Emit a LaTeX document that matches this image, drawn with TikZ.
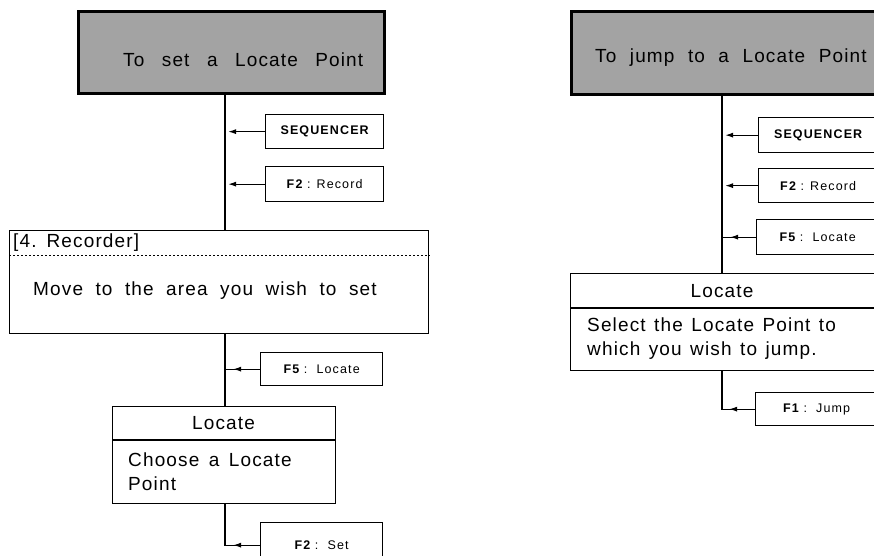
\documentclass[tikz,border=0pt]{standalone}
\usepackage{fontspec}
\setmainfont{Liberation Sans}
\newfontfamily\bigf[LetterSpace=6]{Liberation Sans}
\newfontfamily\keyf[LetterSpace=9]{Liberation Sans}
\usetikzlibrary{arrows.meta,decorations.markings}
\begin{document}
\begin{tikzpicture}[x=1pt,y=-1pt,
  titlebox/.style={draw, line width=2.8pt, fill=black!36, anchor=north west, inner sep=0pt},
  panel/.style={draw, line width=1.3pt, anchor=north west, inner sep=0pt},
  keybox/.style={draw, line width=1.3pt, anchor=north west, inner sep=0pt,
    minimum width=122pt, minimum height=34pt, font=\keyf\fontsize{12.5}{14}\selectfont},
  bigtxt/.style={anchor=west, inner sep=0pt, font=\bigf\fontsize{19}{24}\selectfont,
    execute at begin node={\spaceskip=#1 plus 1pt\relax}},
  bigtxt/.default=10pt,
  hdr/.style={anchor=center, inner sep=0pt, font=\bigf\fontsize{19}{24}\selectfont},
  conn/.style={line width=1.3pt},
  arr/.style={conn, -{Latex[length=8pt,width=5pt]}, shorten >=3pt},
  tipmark/.style={postaction={decorate}, decoration={markings,
    mark=at position #1 with {\arrow{Latex[length=8pt,width=5pt]}}}},
  ]
\useasboundingbox (0,0) rectangle (874,555);
\clip (0,0) rectangle (874,555);
\fill[white] (0,0) rectangle (874,555);

% ---------------- left column ----------------
\coordinate (lv) at (225,0);
\node[titlebox, minimum width=306pt, minimum height=82pt] (ltitle) at (77,10) {};
\node[bigtxt=17.5pt] (ltitletxt) at (123,60) {To set a Locate Point};

\node[keybox, minimum width=118pt] (lseq) at (265,114) {\bfseries SEQUENCER};
\node[keybox, minimum width=118pt, minimum height=35pt] (lrec2) at (265,166) {{\bfseries F2} : Record};

\node[panel, minimum width=419pt, minimum height=103pt] (lrec) at (9,230) {};
\node[bigtxt] (lrechdr) at (13,243) {[4.\ Recorder]};
\draw[line width=1pt, dash pattern=on 2pt off 2pt] (lrec.west |- 0,255) -- (lrec.east |- 0,255);
\node[bigtxt=12.5pt] (lmove) at (33,291) {Move to the area you wish to set};

\node[keybox, minimum height=33pt] (lf5) at (260,352) {{\bfseries F5} :\ \ Locate};

\node[panel, minimum width=223pt, minimum height=97pt] (lloc) at (112,406) {};
\draw[line width=1.3pt] (lloc.west |- 0,440) -- (lloc.east |- 0,440);
\node[hdr] (llochdr) at (223.5,423) {Locate};
\node[bigtxt=9.5pt, align=left] (lchoose) at (128,471.5) {Choose a Locate\\Point};

\node[keybox, minimum height=45pt] (lset) at (260,522) {{\bfseries F2} :\ \ Set};

\draw[conn] (ltitle.south -| lv) -- (lrec.north -| lv);
\draw[arr] (lseq.west) -- (lseq.west -| lv);
\draw[arr] (lrec2.west) -- (lrec2.west -| lv);
\draw[conn] (lrec.south -| lv) -- (lloc.north -| lv);
\draw[conn, tipmark=27pt] (lf5.west) -- (lf5.west -| lv);
\draw[conn, tipmark=27pt] (lset.west) -| (lloc.south -| lv);

% ---------------- right column ----------------
\coordinate (rv) at (722,0);
\node[titlebox, minimum width=312pt, minimum height=83pt] (rtitle) at (570,10) {};
\node[bigtxt=13.5pt] (rtitletxt) at (595,58) {To jump to a Locate Point};

\node[keybox, minimum width=119pt, minimum height=35pt] (rseq) at (758,117) {\bfseries SEQUENCER};
\node[keybox, minimum width=119pt] (rrec2) at (758,168) {{\bfseries F2} : Record};
\node[keybox, minimum height=35pt] (rf5) at (756,219) {{\bfseries F5} :\ \ Locate};

\node[panel, minimum width=306pt, minimum height=97pt] (rloc) at (570,273) {};
\draw[line width=1.3pt] (rloc.west |- 0,308) -- (rloc.east |- 0,308);
\node[hdr] (rlochdr) at (722,291) {Locate};
\node[bigtxt=8.5pt, align=left] (rselect) at (587,339) {Select the Locate Point to\\which you wish to jump.};

\node[keybox, minimum height=33pt] (rjump) at (755,392) {{\bfseries F1} :\ \ Jump};

\draw[conn] (rtitle.south -| rv) -- (rloc.north -| rv);
\draw[arr] (rseq.west) -- (rseq.west -| rv);
\draw[arr] (rrec2.west) -- (rrec2.west -| rv);
\draw[conn, tipmark=26pt] (rf5.west) -- (rf5.west -| rv);
\draw[conn, tipmark=26pt] (rjump.west) -| (rloc.south -| rv);
\end{tikzpicture}
\end{document}
